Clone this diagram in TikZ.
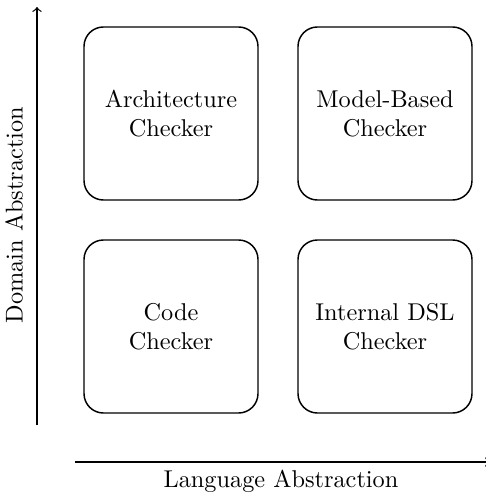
\documentclass[tikz,border=0pt]{standalone}
\begin{document}
\begin{tikzpicture}[x=0.4115pt,y=-0.4115pt,
  checker/.style={draw, line width=0.6pt, rounded corners=8pt, minimum width=71.6pt, minimum height=71.2pt, align=center, inner sep=0pt},
  axis/.style={->, line width=0.5pt}]
\useasboundingbox (0,0) rectangle (486,494);
\node[checker] (arch) at (171,113.5) {Architecture\\Checker};
\node[checker] (model) at (385,113.5) {Model-Based\\Checker};
\node[checker] (code) at (171,326.5) {Code\\Checker};
\node[checker] (dsl) at (385,326.5) {Internal DSL\\Checker};
\coordinate (v0) at (37,425);
\coordinate (v1) at (37,7);
\coordinate (h0) at (75,462);
\coordinate (h1) at (490,462);
\draw[axis] (v0) -- (v1);
\draw[axis] (h0) -- (h1);
\node[rotate=90] (dom) at (14,215) {Domain Abstraction};
\node (lang) at (281,481) {Language Abstraction};
\end{tikzpicture}
\end{document}
